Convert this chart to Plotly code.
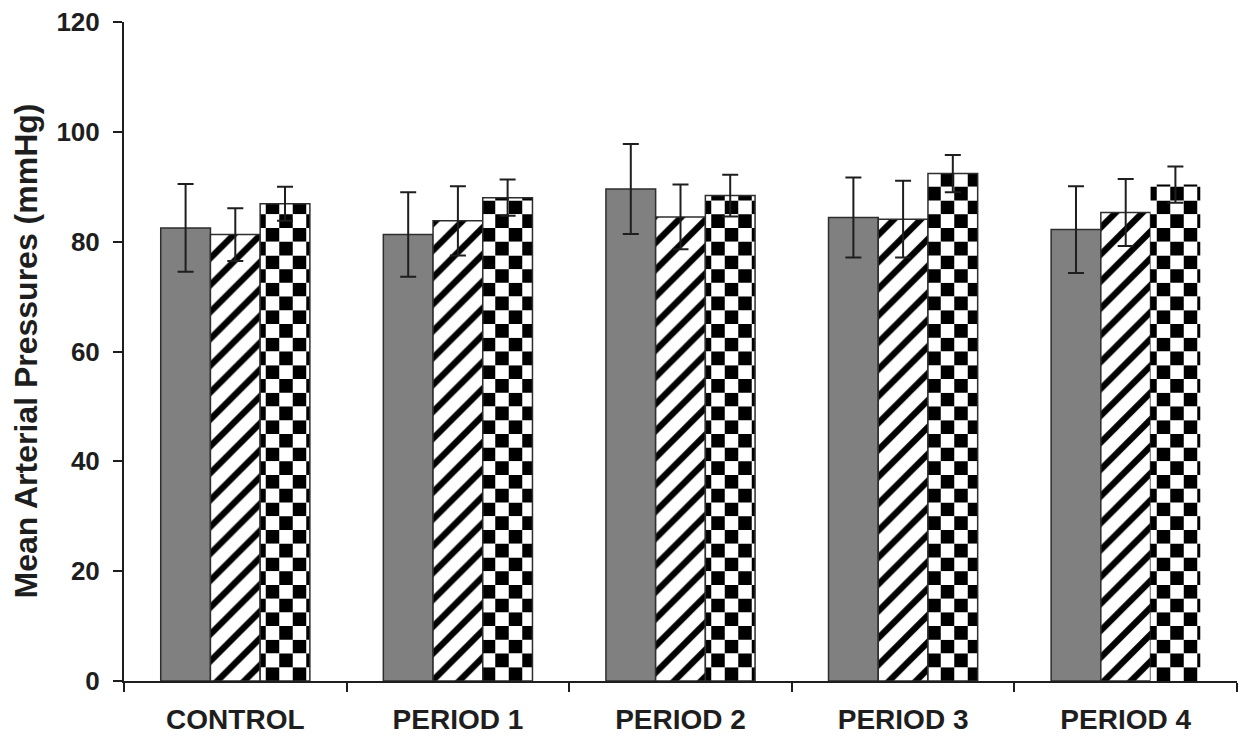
import math
import plotly.graph_objects as go

# ---- data ----
categories = ["CONTROL", "PERIOD 1", "PERIOD 2", "PERIOD 3", "PERIOD 4"]
gray_mean = [82.5, 81.3, 89.6, 84.4, 82.2]
gray_err = [8.0, 7.7, 8.2, 7.3, 7.9]
hatch_mean = [81.3, 83.8, 84.5, 84.1, 85.3]
hatch_err = [4.8, 6.3, 5.9, 7.0, 6.1]
check_mean = [86.9, 88.0, 88.4, 92.4, 90.4]
check_err = [3.1, 3.3, 3.8, 3.4, 3.3]
y_ticks = [0, 20, 40, 60, 80, 100, 120]
y_title = "Mean Arterial Pressures (mmHg)"

# ---- style ----
FONT = "Liberation Sans, Arial, sans-serif"
INK = "#1e1e1e"
EDGE = "#2e2e2e"
CHECK_ROW = 2.5  # height of one checker row, in axis units

err_style = dict(type="data", color=INK, thickness=2, width=8, visible=True)

fig = go.Figure()

fig.add_trace(go.Bar(
    x=categories, y=gray_mean, offsetgroup="a",
    marker=dict(color="#808080", line=dict(color=EDGE, width=1.5)),
    error_y=dict(array=gray_err, **err_style),
    hoverinfo="skip",
))

fig.add_trace(go.Bar(
    x=categories, y=hatch_mean, offsetgroup="b",
    marker=dict(color="white", line=dict(color=EDGE, width=1.5),
                pattern=dict(shape="/", fgcolor="black", bgcolor="white",
                             size=19, solidity=0.33, fillmode="replace")),
    error_y=dict(array=hatch_err, **err_style),
    hoverinfo="skip",
))

# checkerboard: alternating rows of vertical stripes with swapped colours
rows = {0: ([], [], []), 1: ([], [], [])}
for cat, v in zip(categories, check_mean):
    n = math.ceil(v / CHECK_ROW)
    for k in range(n):
        b = k * CHECK_ROW
        xs, bs, hs = rows[k % 2]
        xs.append(cat)
        bs.append(b)
        hs.append(min(CHECK_ROW, v - b))

for parity, (fg, bg) in enumerate([("black", "white"), ("white", "black")]):
    xs, bs, hs = rows[parity]
    fig.add_trace(go.Bar(
        x=xs, y=hs, base=bs, offsetgroup="c",
        marker=dict(color=bg, line=dict(width=0),
                    pattern=dict(shape="|", fgcolor=fg, bgcolor=bg,
                                 size=27, solidity=0.5, fillmode="replace")),
        hoverinfo="skip",
    ))

fig.add_trace(go.Bar(
    x=categories, y=check_mean, offsetgroup="c",
    marker=dict(color="rgba(0,0,0,0)",
                line=dict(color=EDGE, width=[1.5, 1.5, 1.5, 1.5, 0])),
    error_y=dict(array=check_err, **err_style),
    hoverinfo="skip",
))

fig.update_layout(
    width=1243, height=737,
    margin=dict(l=124, r=6, t=22, b=56, autoexpand=False),
    barmode="group", bargap=0.33, bargroupgap=0,
    showlegend=False,
    plot_bgcolor="white", paper_bgcolor="white",
    font=dict(family=FONT, color=INK),
)

fig.add_annotation(
    text=y_title, xref="paper", yref="paper", x=0, y=0.5,
    xanchor="center", yanchor="middle", xshift=-99, textangle=-90,
    showarrow=False,
    font=dict(family=FONT, size=32, weight="bold", color=INK),
)

fig.update_xaxes(
    type="category", range=[-0.5, 4.5], automargin=False,
    showline=True, linecolor=INK, linewidth=2,
    ticks="outside", tickson="boundaries", ticklen=9, tickwidth=2, tickcolor=INK,
    tickfont=dict(family=FONT, size=28, weight="bold", color=INK),
    ticklabelstandoff=12,
    showgrid=False, zeroline=False,
)

fig.update_yaxes(
    range=[0, 120], tickvals=y_ticks, automargin=False,
    showline=True, linecolor=INK, linewidth=2,
    ticks="outside", ticklen=9, tickwidth=2, tickcolor=INK,
    tickfont=dict(family=FONT, size=26, weight="bold", color=INK),
    ticklabelstandoff=8,
    showgrid=False, zeroline=False,
)

fig.write_html(
    "out.html",
    config={"displayModeBar": False},
    post_script="document.body.style.margin='0';document.body.style.overflow='hidden';",
)
